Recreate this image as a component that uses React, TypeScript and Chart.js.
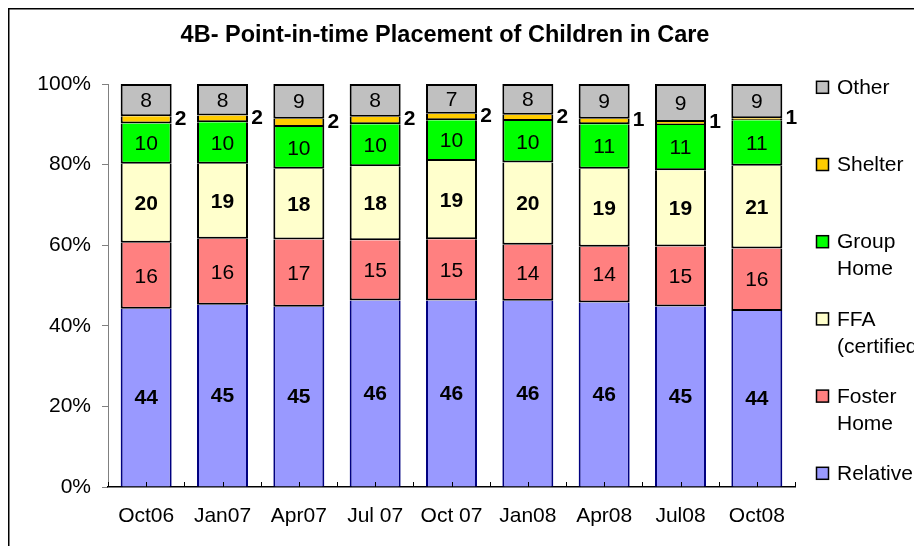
import React, { useEffect, useRef } from 'react';
import { Chart, registerables } from 'chart.js';

Chart.register(...registerables);

const categories = ['Oct06', 'Jan07', 'Apr07', 'Jul 07', 'Oct 07', 'Jan08', 'Apr08', 'Jul08', 'Oct08'];
const relative = [44.2, 45.2, 44.7, 46.3, 46.3, 46.2, 45.8, 44.8, 43.7];
const fosterHome = [16.4, 16.4, 16.7, 14.9, 15.2, 13.9, 13.8, 14.9, 15.5];
const ffaCertified = [19.6, 18.6, 17.6, 18.4, 19.4, 20.4, 19.4, 18.9, 20.5];
const groupHome = [10.0, 10.3, 10.3, 10.4, 10.1, 10.3, 11.0, 11.2, 11.3];
const shelter = [1.8, 1.7, 2.1, 1.9, 1.6, 1.6, 1.4, 0.8, 0.5];
const other = [8.0, 7.8, 8.6, 8.1, 7.4, 7.6, 8.6, 9.4, 8.5];
const seriesNames = ['Relative', 'Foster Home', 'FFA (certified)', 'Group Home', 'Shelter', 'Other'];
const legendLines = [['Relative'], ['Foster', 'Home'], ['FFA', '(certified)'], ['Group', 'Home'], ['Shelter'], ['Other']];
const yTicks = [0, 20, 40, 60, 80, 100];
const titleText = '4B- Point-in-time Placement of Children in Care';

const FONT = '"Liberation Sans", Arial, Helvetica, sans-serif';

export default function App() {
  const ref = useRef<HTMLCanvasElement>(null);

  useEffect(() => {
    document.documentElement.style.overflow = 'hidden';
    const canvas = ref.current;
    if (!canvas) return;

    const fills = ['#9999FF', '#FF8080', '#FFFFCC', '#00FF00', '#FFCC00', '#C0C0C0'];
    const borders = ['#000080', '#000000', '#000000', '#000000', '#000000', '#000000'];
    const boldLabels = [true, false, true, false, true, false];
    const values = [relative, fosterHome, ffaCertified, groupHome, shelter, other];

    const datasets = values.map((d, i) => ({
      label: seriesNames[i],
      data: d,
      backgroundColor: fills[i],
      borderColor: borders[i],
      borderWidth:
        i === 0
          ? { left: 2, right: 2, top: 0, bottom: 0 }
          : i === 5
          ? { left: 2, right: 2, top: 2, bottom: 2 }
          : { left: 2, right: 2, top: 0, bottom: 2 },
      borderSkipped: false,
      inflateAmount: 0,
      barPercentage: 0.668,
      categoryPercentage: 1,
    }));

    const custom = {
      id: 'custom',
      beforeDraw(chart: any) {
        const ctx = chart.ctx;
        ctx.save();
        ctx.fillStyle = '#fff';
        ctx.fillRect(0, 0, chart.width, chart.height);
        // frame
        ctx.strokeStyle = '#000';
        ctx.lineWidth = 1.5;
        ctx.beginPath();
        ctx.moveTo(0.75, chart.height + 2);
        ctx.lineTo(0.75, 0.75);
        ctx.lineTo(chart.width + 2, 0.75);
        ctx.stroke();
        // title
        ctx.fillStyle = '#000';
        ctx.font = 'bold 23.5px ' + FONT;
        ctx.textAlign = 'center';
        ctx.textBaseline = 'middle';
        ctx.fillText(titleText, 437, 28);
        ctx.restore();
      },
      afterDatasetsDraw(chart: any) {
        const ctx = chart.ctx;
        const area = chart.chartArea;
        ctx.save();
        // x axis tick marks (inside, at category centres and boundaries)
        const n = categories.length * 2;
        const step = (area.right - area.left) / n;
        ctx.strokeStyle = '#000';
        ctx.lineWidth = 1;
        ctx.beginPath();
        for (let k = 0; k <= n; k++) {
          const x = Math.round(area.left + k * step) + 0.5;
          ctx.moveTo(x, area.bottom);
          ctx.lineTo(x, area.bottom - 5);
        }
        ctx.stroke();
        // data labels
        ctx.fillStyle = '#000';
        ctx.textBaseline = 'middle';
        ctx.textAlign = 'center';
        chart.data.datasets.forEach((ds: any, i: number) => {
          const meta = chart.getDatasetMeta(i);
          ctx.font = (boldLabels[i] ? 'bold ' : '') + '21px ' + FONT;
          meta.data.forEach((el: any, j: number) => {
            const v = ds.data[j];
            const txt = String(Math.round(v));
            const cy = (el.y + el.base) / 2;
            if (i === 4) {
              ctx.fillText(txt, el.x + el.width / 2 + 9, cy - 1);
            } else {
              ctx.fillText(txt, el.x, cy + 1);
            }
          });
        });
        ctx.restore();
      },
      afterDraw(chart: any) {
        const ctx = chart.ctx;
        ctx.save();
        const sqX = 808.5;
        const sq = 12;
        const textX = 829;
        const firstY = 79.3;
        const stepY = 77.2;
        const lineH = 27;
        ctx.font = '21px ' + FONT;
        ctx.textAlign = 'left';
        ctx.textBaseline = 'middle';
        const order = [5, 4, 3, 2, 1, 0];
        order.forEach((idx, k) => {
          const y = firstY + k * stepY;
          ctx.fillStyle = fills[idx];
          ctx.fillRect(sqX, y - sq / 2, sq, sq);
          ctx.strokeStyle = '#000';
          ctx.lineWidth = 1.5;
          ctx.strokeRect(sqX, y - sq / 2, sq, sq);
          ctx.fillStyle = '#000';
          legendLines[idx].forEach((line, li) => {
            ctx.fillText(line, textX, y + li * lineH + 1);
          });
        });
        ctx.restore();
      },
    };

    const chart = new Chart(canvas, {
      type: 'bar',
      data: { labels: categories, datasets: datasets as any },
      options: {
        responsive: false,
        animation: false,
        devicePixelRatio: 1,
        layout: { padding: { left: 0, right: 127, top: 76, bottom: 0 } },
        plugins: {
          legend: { display: false },
          title: { display: false },
          tooltip: { enabled: false },
        },
        scales: {
          x: {
            stacked: true,
            grid: { display: false, drawTicks: false },
            border: { display: true, color: '#000', width: 1.5 },
            ticks: {
              color: '#000',
              font: { family: FONT, size: 21 },
              padding: 17,
              maxRotation: 0,
              autoSkip: false,
            },
            afterFit(scale: any) {
              scale.height = 59;
            },
          },
          y: {
            stacked: true,
            min: 0,
            max: 100,
            grid: {
              display: true,
              drawOnChartArea: false,
              drawTicks: true,
              tickLength: 6,
              color: '#808080',
              lineWidth: 1,
            },
            border: { display: true, color: '#808080', width: 1 },
            afterBuildTicks(scale: any) {
              scale.ticks = yTicks.map((v) => ({ value: v }));
            },
            ticks: {
              color: '#000',
              font: { family: FONT, size: 21 },
              padding: 11,
              callback: (v: any) => v + '%',
            },
            afterFit(scale: any) {
              scale.width = 100;
            },
          },
        },
      } as any,
      plugins: [custom],
    });

    return () => chart.destroy();
  }, []);

  return (
    <div style={{ width: 914, height: 538 }}>
      <canvas ref={ref} width={914} height={538} style={{ display: 'block', width: 914, height: 538 }} />
    </div>
  );
}
